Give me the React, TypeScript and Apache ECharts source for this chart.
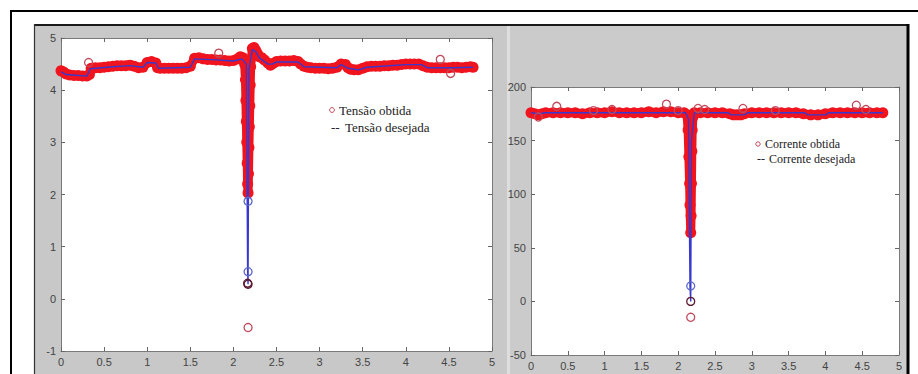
import React, { useEffect, useRef } from "react";
import * as echarts from "echarts";

// ---------- DATA ----------
// Left panel: voltage (Tensão), time in s
const tensaoObtida: [number, number][] = [
  [0.0, 4.37], [0.03, 4.35], [0.06, 4.31], [0.1, 4.29], [0.15, 4.28], [0.2, 4.28], [0.25, 4.27], [0.3, 4.27],
  [0.33, 4.3], [0.35, 4.42], [0.4, 4.43], [0.45, 4.43], [0.5, 4.44], [0.55, 4.45], [0.6, 4.46], [0.65, 4.47],
  [0.7, 4.47], [0.75, 4.47], [0.8, 4.48], [0.85, 4.46], [0.9, 4.43], [0.95, 4.44], [1.0, 4.53], [1.05, 4.55],
  [1.1, 4.52], [1.12, 4.43], [1.15, 4.42], [1.2, 4.42], [1.25, 4.42], [1.3, 4.42], [1.35, 4.42], [1.4, 4.42],
  [1.45, 4.43], [1.5, 4.46], [1.55, 4.61], [1.6, 4.62], [1.65, 4.6], [1.7, 4.59], [1.75, 4.59], [1.8, 4.58],
  [1.85, 4.58], [1.9, 4.57], [1.95, 4.56], [2.0, 4.57], [2.05, 4.6], [2.08, 4.64], [2.11, 4.62],
  [2.13, 4.5], [2.14, 4.2], [2.145, 3.8], [2.15, 3.4], [2.155, 3.0], [2.16, 2.6], [2.165, 2.2], [2.17, 2.03],
  [2.175, 2.4], [2.18, 2.9], [2.185, 3.3], [2.19, 3.7], [2.195, 4.1], [2.2, 4.45], [2.22, 4.8], [2.24, 4.82],
  [2.26, 4.76], [2.28, 4.7], [2.3, 4.64], [2.33, 4.62], [2.36, 4.58], [2.4, 4.52], [2.43, 4.48], [2.46, 4.51],
  [2.5, 4.55], [2.55, 4.56], [2.6, 4.56], [2.65, 4.56], [2.7, 4.57], [2.75, 4.55], [2.78, 4.5], [2.82, 4.46],
  [2.86, 4.44], [2.9, 4.43], [2.95, 4.42], [3.0, 4.42], [3.05, 4.42], [3.1, 4.41], [3.15, 4.42], [3.2, 4.44],
  [3.25, 4.5], [3.3, 4.49], [3.33, 4.43], [3.36, 4.4], [3.4, 4.39], [3.45, 4.39], [3.5, 4.42], [3.55, 4.45],
  [3.6, 4.46], [3.65, 4.46], [3.7, 4.46], [3.75, 4.47], [3.8, 4.47], [3.85, 4.48], [3.9, 4.48], [3.95, 4.49],
  [4.0, 4.5], [4.05, 4.5], [4.1, 4.5], [4.15, 4.5], [4.2, 4.47], [4.25, 4.44], [4.3, 4.43], [4.35, 4.43],
  [4.4, 4.43], [4.45, 4.43], [4.5, 4.43], [4.55, 4.44], [4.6, 4.44], [4.65, 4.43], [4.7, 4.44], [4.75, 4.45],
  [4.78, 4.44],
];
const tensaoDesejada: [number, number][] = [
  [0.0, 4.35], [0.06, 4.3], [0.3, 4.27], [0.34, 4.41], [0.6, 4.45], [0.8, 4.47], [0.95, 4.44], [1.0, 4.53],
  [1.1, 4.52], [1.13, 4.42], [1.5, 4.44], [1.55, 4.6], [1.8, 4.58], [2.0, 4.56], [2.1, 4.6], [2.15, 4.5],
  [2.16, 1.87], [2.165, 0.52], [2.17, 0.28], [2.18, 4.4], [2.22, 4.78], [2.26, 4.74], [2.3, 4.62], [2.4, 4.5],
  [2.45, 4.5], [2.5, 4.54], [2.75, 4.54], [2.82, 4.45], [3.2, 4.43], [3.25, 4.49], [3.33, 4.42], [3.45, 4.39],
  [3.55, 4.44], [4.0, 4.49], [4.18, 4.49], [4.25, 4.43], [4.55, 4.43], [4.78, 4.44],
];
const tensaoIsolada: [number, number][] = [
  [0.32, 4.53], [1.83, 4.71], [4.4, 4.59], [4.52, 4.32], [2.17, -0.55],
];
const tensaoAzul: [number, number][] = [[2.17, 1.87], [2.17, 0.52]];
const tensaoEscura: [number, number][] = [[2.17, 0.28], [2.165, 0.3]];

// Right panel: current (Corrente)
const correnteObtida: [number, number][] = [
  [0.0, 176], [0.05, 175], [0.1, 174], [0.15, 175], [0.2, 176], [0.3, 176], [0.4, 176], [0.5, 176],
  [0.6, 176], [0.7, 175], [0.8, 176], [0.9, 176], [1.0, 176], [1.1, 177], [1.2, 176], [1.3, 176],
  [1.4, 176], [1.5, 176], [1.6, 177], [1.7, 176], [1.8, 177], [1.9, 177], [2.0, 176], [2.08, 176],
  [2.12, 174], [2.135, 160], [2.145, 135], [2.155, 110], [2.16, 90], [2.17, 64], [2.175, 80], [2.18, 110],
  [2.185, 140], [2.19, 160], [2.2, 172], [2.22, 176], [2.3, 176], [2.4, 176], [2.5, 176], [2.6, 176],
  [2.7, 175], [2.75, 174], [2.8, 174], [2.85, 174], [2.9, 175], [3.0, 176], [3.1, 176], [3.2, 176],
  [3.3, 176], [3.4, 176], [3.5, 176], [3.6, 176], [3.7, 175], [3.8, 174], [3.9, 174], [4.0, 175],
  [4.1, 176], [4.2, 176], [4.3, 176], [4.4, 176], [4.5, 176], [4.6, 176], [4.7, 176], [4.78, 176],
];
const correnteDesejada: [number, number][] = [
  [0.0, 176], [0.1, 175], [0.2, 176], [2.1, 176], [2.14, 170], [2.16, 14.4], [2.17, 0], [2.18, 150],
  [2.22, 176], [2.68, 176], [2.72, 174], [2.9, 174], [2.95, 176], [3.72, 176], [3.76, 174], [4.0, 174],
  [4.05, 176], [4.78, 176],
];
const correnteIsolada: [number, number][] = [
  [0.35, 182], [1.84, 184], [4.42, 183], [2.88, 180], [0.1, 172], [1.1, 179], [2.27, 180], [2.36, 179],
  [4.55, 179], [3.32, 178], [0.85, 178], [2.0, 178], [2.17, -14.8],
];
const correnteAzul: [number, number][] = [[2.17, 14.4]];
const correnteEscura: [number, number][] = [[2.17, 0]];

const xTicks = { min: 0, max: 5, interval: 0.5 };
const yTicksTensao = { min: -1, max: 5, interval: 1 };
const yTicksCorrente = { min: -50, max: 200, interval: 50 };

// ---------- CHART ----------
const AXIS_COLOR = "#7a7a7a";
const LABEL = { color: "#444", fontSize: 11, fontFamily: "Liberation Sans, Arial, sans-serif" };

function xAxis(gridIndex: number, position: "top" | "bottom") {
  return {
    type: "value",
    gridIndex,
    position,
    ...xTicks,
    axisLine: { show: true, onZero: false, lineStyle: { color: AXIS_COLOR, width: 1 } },
    axisTick: { show: true, inside: true, length: 4, lineStyle: { color: "#666" } },
    axisLabel: position === "bottom" ? { ...LABEL, margin: 5 } : { show: false },
    splitLine: { show: false },
  };
}
function yAxis(gridIndex: number, position: "left" | "right", t: { min: number; max: number; interval: number }) {
  return {
    type: "value",
    gridIndex,
    position,
    ...t,
    axisLine: { show: true, onZero: false, lineStyle: { color: AXIS_COLOR, width: 1 } },
    axisTick: { show: true, inside: true, length: 4, lineStyle: { color: "#666" } },
    axisLabel: position === "left" ? { ...LABEL, margin: 5 } : { show: false },
    splitLine: { show: false },
  };
}

const RED = "#f0141e";
const BLUE = "#3838d0";

function bandSeries(x: number, y: number, data: [number, number][]) {
  return {
    type: "line",
    xAxisIndex: x,
    yAxisIndex: y,
    data,
    lineStyle: { color: RED, width: 9 },
    symbol: "circle",
    symbolSize: 11,
    showAllSymbol: true,
    itemStyle: { color: RED },
    z: 2,
  };
}
function lineSeries(x: number, y: number, data: [number, number][]) {
  return {
    type: "line",
    xAxisIndex: x,
    yAxisIndex: y,
    data,
    lineStyle: { color: BLUE, width: 1.4 },
    showSymbol: false,
    symbol: "none",
    z: 3,
  };
}
function circles(x: number, y: number, data: [number, number][], color: string) {
  return {
    type: "scatter",
    xAxisIndex: x,
    yAxisIndex: y,
    data,
    symbol: "circle",
    symbolSize: 8,
    itemStyle: { color: "rgba(255,255,255,0)", borderColor: color, borderWidth: 1.3, opacity: 1 },
    z: 4,
  };
}

const SERIF = "Liberation Serif, Times New Roman, serif";

export default function App() {
  const ref = useRef<HTMLDivElement>(null);
  useEffect(() => {
    document.body.style.margin = "0";
    const chart = echarts.init(ref.current!, undefined, { renderer: "svg" });
    chart.setOption({
      animation: false,
      backgroundColor: "#fff",
      grid: [
        { left: 61, top: 38, width: 431, height: 313, show: true, backgroundColor: "#fff", borderWidth: 0 },
        { left: 531, top: 87, width: 368, height: 268, show: true, backgroundColor: "#fff", borderWidth: 0 },
      ],
      xAxis: [xAxis(0, "bottom"), xAxis(0, "top"), xAxis(1, "bottom"), xAxis(1, "top")],
      yAxis: [
        yAxis(0, "left", yTicksTensao),
        yAxis(0, "right", yTicksTensao),
        yAxis(1, "left", yTicksCorrente),
        yAxis(1, "right", yTicksCorrente),
      ],
      series: [
        { name: "Tensão obtida", ...bandSeries(0, 0, tensaoObtida) },
        { name: "Tensão desejada", ...lineSeries(0, 0, tensaoDesejada) },
        circles(0, 0, tensaoIsolada, "#c04a5c"),
        circles(0, 0, tensaoAzul, "#5a68c8"),
        circles(0, 0, tensaoEscura, "#5a1830"),
        { name: "Corrente obtida", ...bandSeries(2, 2, correnteObtida) },
        { name: "Corrente desejada", ...lineSeries(2, 2, correnteDesejada) },
        circles(2, 2, correnteIsolada, "#c04a5c"),
        circles(2, 2, correnteAzul, "#5a68c8"),
        circles(2, 2, correnteEscura, "#5a1830"),
      ],
      graphic: [
        // figure panels
        { type: "rect", z: -10, shape: { x: 34, y: 24, width: 473, height: 360 }, style: { fill: "#c8c8c8" } },
        { type: "rect", z: -10, shape: { x: 507, y: 24, width: 3, height: 360 }, style: { fill: "#dedede" } },
        { type: "rect", z: -10, shape: { x: 510, y: 24, width: 397, height: 360 }, style: { fill: "#cbcbcb" } },
        { type: "line", z: -5, shape: { x1: 34, y1: 25, x2: 908, y2: 25 }, style: { stroke: "#1a1a1a", lineWidth: 2 } },
        { type: "line", z: -5, shape: { x1: 34.5, y1: 24, x2: 34.5, y2: 374 }, style: { stroke: "#333", lineWidth: 1.2 } },
        // outer frame
        { type: "line", z: -5, shape: { x1: 10, y1: 11, x2: 918, y2: 11 }, style: { stroke: "#000", lineWidth: 2 } },
        { type: "line", z: -5, shape: { x1: 11, y1: 10, x2: 11, y2: 374 }, style: { stroke: "#000", lineWidth: 2 } },
        { type: "line", z: -5, shape: { x1: 908, y1: 24, x2: 908, y2: 374 }, style: { stroke: "#000", lineWidth: 3 } },
        // legend left
        { type: "circle", z: 20, shape: { cx: 332, cy: 110, r: 2.4 }, style: { fill: "none", stroke: "#c04a5c", lineWidth: 1 } },
        { type: "text", z: 20, x: 339, y: 110, style: { text: "Tensão obtida", font: `13px ${SERIF}`, fill: "#222", verticalAlign: "middle" } },
        { type: "text", z: 20, x: 331, y: 127, style: { text: "--", font: `13px ${SERIF}`, fill: "#223", verticalAlign: "middle" } },
        { type: "text", z: 20, x: 345, y: 127, style: { text: "Tensão desejada", font: `13px ${SERIF}`, fill: "#222", verticalAlign: "middle" } },
        // legend right
        { type: "circle", z: 20, shape: { cx: 758, cy: 144, r: 2.2 }, style: { fill: "none", stroke: "#c04a5c", lineWidth: 1 } },
        { type: "text", z: 20, x: 765, y: 144, style: { text: "Corrente obtida", font: `12px ${SERIF}`, fill: "#222", verticalAlign: "middle" } },
        { type: "text", z: 20, x: 757, y: 159, style: { text: "--", font: `12px ${SERIF}`, fill: "#223", verticalAlign: "middle" } },
        { type: "text", z: 20, x: 769, y: 159, style: { text: "Corrente desejada", font: `12px ${SERIF}`, fill: "#222", verticalAlign: "middle" } },
      ],
    });
    return () => chart.dispose();
  }, []);
  return <div ref={ref} style={{ width: 918, height: 374 }} />;
}
